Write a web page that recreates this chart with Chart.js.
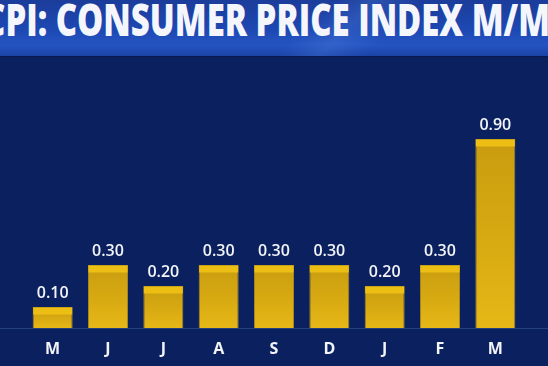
<!DOCTYPE html>
<html lang="en">
<head>
    <meta charset="UTF-8">
    <title>CPI: Consumer Price Index M/M</title>
    <script src="https://cdn.jsdelivr.net/npm/chart.js"></script>
    <style>
        html, body { margin: 0; padding: 0; background: #0b215f; overflow: hidden; }
        .wrap { position: relative; width: 548px; height: 366px; }
        .banner {
            position: absolute; left: 0; top: 0; width: 548px; height: 56px; overflow: hidden; z-index: 2;
            background:
                linear-gradient(135deg, rgba(255,255,255,0) 55%, rgba(90,140,230,0.25) 62%, rgba(255,255,255,0) 70%),
                linear-gradient(180deg, #1b3c9a 0%, #1d49b4 55%, #2554c2 80%, #1a43a6 100%);
            border-bottom: 1px solid #0a1a4c;
        }
        #title {
            position: absolute; left: -16px; top: -3px; white-space: nowrap;
            font-family: "Open Sans", sans-serif; font-weight: 800; font-size: 44px; line-height: 44px;
            color: #f4f6fb; transform-origin: left top;
        }
        canvas { position: absolute; left: 0; top: 0; }
    </style>
</head>
<body>
    <div class="wrap">
        <div class="banner"><span id="title">CPI: CONSUMER PRICE INDEX M/M</span></div>
        <canvas id="cpiChart" width="548" height="366"></canvas>
    </div>
    <script>
        const months = ['M', 'J', 'J', 'A', 'S', 'D', 'J', 'F', 'M'];
        const cpiMoM = [0.10, 0.30, 0.20, 0.30, 0.30, 0.30, 0.20, 0.30, 0.90];
        const valueLabels = ['0.10', '0.30', '0.20', '0.30', '0.30', '0.30', '0.20', '0.30', '0.90'];

        // squeeze the title so it runs off both edges like the broadcast graphic
        const fitTitle = () => {
            const t = document.getElementById('title');
            t.style.transform = 'none';
            const w = t.getBoundingClientRect().width;
            t.style.transform = `scaleX(${566 / w})`;
        };
        fitTitle();
        if (document.fonts) document.fonts.ready.then(fitTitle);

        const barFill = (context) => {
            const chart = context.chart;
            if (!chart.chartArea || context.dataIndex === undefined) return '#dcae16';
            const y = chart.scales.y;
            const top = y.getPixelForValue(cpiMoM[context.dataIndex]);
            const bottom = y.getPixelForValue(0);
            const g = chart.ctx.createLinearGradient(0, top, 0, bottom);
            g.addColorStop(0, '#c99c10');
            g.addColorStop(0.5, '#d6a912');
            g.addColorStop(1, '#e6b716');
            return g;
        };

        const barDecor = {
            id: 'barDecor',
            beforeDatasetsDraw(chart) {
                const ctx = chart.ctx;
                const y0 = chart.scales.y.getPixelForValue(0);
                ctx.save();
                ctx.strokeStyle = '#233f80';
                ctx.lineWidth = 1;
                ctx.beginPath();
                ctx.moveTo(0, Math.round(y0) + 0.5);
                ctx.lineTo(chart.width, Math.round(y0) + 0.5);
                ctx.stroke();
                ctx.restore();
            },
            afterDatasetsDraw(chart) {
                const ctx = chart.ctx;
                const meta = chart.getDatasetMeta(0);
                ctx.save();
                meta.data.forEach((bar, i) => {
                    const left = bar.x - bar.width / 2;
                    ctx.fillStyle = '#edbe14';
                    ctx.fillRect(left + 0.5, bar.y + 0.5, bar.width - 1, 7);
                    ctx.fillStyle = '#f2f4f8';
                    ctx.font = '600 16px "Open Sans", sans-serif';
                    ctx.textAlign = 'center';
                    ctx.textBaseline = 'middle';
                    ctx.fillText(valueLabels[i], bar.x, bar.y - 14);
                });
                ctx.restore();
            }
        };

        const ctx = document.getElementById('cpiChart').getContext('2d');
        new Chart(ctx, {
            type: 'bar',
            data: {
                labels: months,
                datasets: [{
                    data: cpiMoM,
                    backgroundColor: barFill,
                    borderColor: '#a3861f',
                    borderWidth: 1,
                    borderSkipped: 'bottom',
                    barPercentage: 0.723,
                    categoryPercentage: 1
                }]
            },
            options: {
                responsive: false,
                animation: false,
                layout: { padding: { top: 76, left: 25, right: 25, bottom: 0 } },
                plugins: { legend: { display: false }, tooltip: { enabled: false } },
                scales: {
                    y: { display: false, min: 0, max: 1.2 },
                    x: {
                        grid: { display: false },
                        border: { display: false },
                        afterFit: (scale) => { scale.height = 38; },
                        ticks: {
                            color: '#f2f4f8',
                            padding: 4,
                            font: { family: '"Open Sans", sans-serif', size: 16, weight: '700' }
                        }
                    }
                }
            },
            plugins: [barDecor]
        });
    </script>
</body>
</html>
